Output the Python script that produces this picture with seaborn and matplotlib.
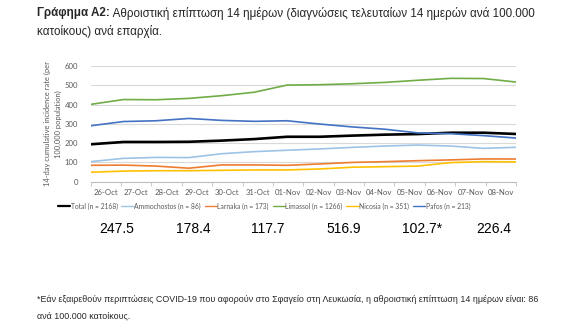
import numpy as np
import pandas as pd
import matplotlib
matplotlib.use("Agg")
import matplotlib.pyplot as plt
from matplotlib.lines import Line2D
import seaborn as sns

dates = ["26-Oct", "27-Oct", "28-Oct", "29-Oct", "30-Oct", "31-Oct", "01-Nov",
         "02-Nov", "03-Nov", "04-Nov", "05-Nov", "06-Nov", "07-Nov", "08-Nov"]

total = [194, 206, 206, 207, 213, 221, 233, 233, 239, 244, 247, 254, 254, 247.5]
ammochostos = [104, 121, 126, 125, 145, 156, 163, 170, 178, 185, 190, 185, 173, 178.4]
larnaka = [85, 86, 81, 70, 87, 87, 85, 92, 100, 104, 109, 113, 118, 117.7]
limassol = [401, 426, 425, 432, 446, 464, 501, 503, 508, 515, 526, 536, 535, 516.9]
nicosia = [49, 55, 57, 57, 59, 61, 61, 66, 75, 78, 81, 99, 104, 102.7]
pafos = [290, 312, 316, 328, 318, 313, 316, 299, 284, 272, 253, 249, 239, 226.4]

series_names = ["Total (n = 2168)", "Ammochostos (n = 86)", "Larnaka (n = 173)",
                "Limassol (n = 1266)", "Nicosia (n = 351)", "Pafos (n = 213)"]
series_values = [total, ammochostos, larnaka, limassol, nicosia, pafos]
series_colors = ["#000000", "#9DC3E6", "#ED7D31", "#70AD47", "#FFC000", "#4472C4"]

latest_labels = ["247.5", "178.4", "117.7", "516.9", "102.7*", "226.4"]

title_bold = "Γράφημα A2:"
title_rest = " Αθροιστική επίπτωση 14 ημέρων (διαγνώσεις τελευταίων 14 ημερών ανά 100.000"
title_line2 = "κατοίκους) ανά επαρχία."
footnote1 = ("*Εάν εξαιρεθούν περιπτώσεις COVID-19 που αφορούν στο Σφαγείο στη Λευκωσία, "
             "η αθροιστική επίπτωση 14 ημέρων είναι: 86")
footnote2 = "ανά 100.000 κατοίκους."

ylabel = "14-day cumulative incidence rate (per\n100,000 population)"

# long-form table for seaborn
rows = []
for name, vals in zip(series_names, series_values):
    for i, v in enumerate(vals):
        rows.append({"pos": i, "date": dates[i], "series": name, "value": v})
df = pd.DataFrame(rows)

sns.set_theme(style="white")
plt.rcParams["font.family"] = ["Liberation Sans", "DejaVu Sans"]
chart_font = ["Lato", "DejaVu Sans"]
W, H = 579, 324

fig = plt.figure(figsize=(5.79, 3.24), dpi=100)
fig.patch.set_facecolor("white")
ax = fig.add_axes([0.1567, 0.4392, 0.7345, 0.3571])

palette = dict(zip(series_names, series_colors))
sizes = {n: (1.9 if n.startswith("Total") else 1.2) for n in series_names}
sns.lineplot(data=df, x="pos", y="value", hue="series", palette=palette,
             size="series", sizes=sizes, hue_order=series_names,
             ax=ax, legend=False, estimator=None, sort=False)

n = len(dates)
span = n - 1
ax.set_xlim(0, span)
ax.set_ylim(0, 600)
ax.set_yticks(range(0, 601, 100))
ax.yaxis.grid(True, color="#D9D9D9", linewidth=0.8)
ax.xaxis.grid(False)
ax.set_axisbelow(True)

centers = [(k + 0.5) * span / n for k in range(n)]
bounds = [k * span / n for k in range(n + 1)]
ax.set_xticks(centers)
ax.set_xticklabels(dates)
ax.set_xticks(bounds, minor=True)
ax.tick_params(axis="x", which="major", length=0, pad=5, labelsize=5.6,
               labelcolor="#595959")
ax.tick_params(axis="x", which="minor", length=3, width=0.6, color="#BFBFBF",
               direction="out", bottom=True)
ax.tick_params(axis="y", length=0, pad=9, labelsize=5.6, labelcolor="#595959")
for lab in ax.get_xticklabels() + ax.get_yticklabels():
    lab.set_family(chart_font)

for side in ["top", "right", "left"]:
    ax.spines[side].set_visible(False)
ax.spines["bottom"].set_color("#BFBFBF")
ax.spines["bottom"].set_linewidth(0.8)

ax.set_xlabel("")
ax.set_ylabel(ylabel, fontsize=5.4, color="#595959", family=chart_font,
              labelpad=2, linespacing=1.6)

handles = [Line2D([], [], color=c, linewidth=(1.6 if i == 0 else 1.0))
           for i, c in enumerate(series_colors)]
leg = fig.legend(handles, series_names, loc="center", ncol=6,
                 bbox_to_anchor=(264 / W, 1 - 206 / H), frameon=False,
                 prop={"family": chart_font, "size": 4.9},
                 handlelength=1.8, handletextpad=0.1, columnspacing=0.55)
for t in leg.get_texts():
    t.set_color("#595959")

# latest values per district
value_x = [117, 193, 268, 344, 422, 494]
for xp, txt in zip(value_x, latest_labels):
    fig.text(xp / W, 1 - 229 / H, txt, ha="center", va="center",
             fontsize=10, color="#000000")

# heading
t1 = fig.text(37 / W, 1 - 13 / H, title_bold, ha="left", va="center",
              fontsize=8.4, fontweight="bold")
fig.canvas.draw()
bb = t1.get_window_extent()
fig.text(bb.x1 / W, 1 - 13 / H, title_rest, ha="left", va="center", fontsize=8.4)
fig.text(37 / W, 1 - 31 / H, title_line2, ha="left", va="center", fontsize=8.4)

# footnote
fig.text(37 / W, 1 - 300 / H, footnote1, ha="left", va="center", fontsize=6.4)
fig.text(37 / W, 1 - 316 / H, footnote2, ha="left", va="center", fontsize=6.4)

fig.savefig("out.png", dpi=100, facecolor="white")
